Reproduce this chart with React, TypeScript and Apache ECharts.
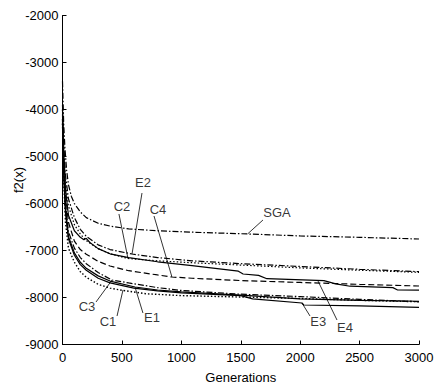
import React, { useEffect, useRef } from "react";
import * as echarts from "echarts";

// Generations axis ticks / value axis ticks
const xTicks = [0, 500, 1000, 1500, 2000, 2500, 3000];
const yTicks = [-9000, -8000, -7000, -6000, -5000, -4000, -3000, -2000];

// Series: [generation, f2(x)]
const sga: number[][] = [[0,-3400],[10,-4300],[20,-4800],[35,-5300],[50,-5600],[75,-5850],[100,-6000],[150,-6180],[200,-6300],[300,-6420],[400,-6480],[557,-6540],[800,-6580],[1090,-6610],[1578,-6650],[2000,-6690],[2500,-6720],[3000,-6755]];
const e2: number[][] = [[0,-3900],[10,-4700],[25,-5400],[50,-5900],[100,-6300],[150,-6550],[200,-6700],[300,-6880],[400,-6980],[585,-7075],[800,-7150],[1090,-7220],[1500,-7280],[2000,-7340],[2500,-7400],[3000,-7450]];
const c2: number[][] = [[0,-4000],[10,-4900],[25,-5600],[50,-6050],[100,-6450],[150,-6650],[200,-6790],[300,-6960],[400,-7070],[551,-7170],[800,-7220],[1090,-7260],[1500,-7310],[2000,-7370],[2500,-7420],[3000,-7465]];
const e4: number[][] = [[0,-4000],[10,-4900],[25,-5700],[50,-6250],[100,-6580],[150,-6720],[180,-6770],[200,-6740],[230,-6830],[300,-6960],[400,-7070],[557,-7150],[800,-7240],[1090,-7320],[1480,-7440],[1520,-7500],[1650,-7530],[1720,-7600],[2200,-7640],[2300,-7710],[2420,-7760],[2780,-7790],[2820,-7840],[3000,-7845]];
const c4: number[][] = [[0,-4100],[10,-5000],[25,-5800],[50,-6400],[100,-6800],[150,-6980],[200,-7080],[300,-7230],[400,-7330],[557,-7430],[800,-7520],[921,-7564],[1090,-7590],[1500,-7640],[2000,-7680],[2500,-7720],[3000,-7755]];
const c3: number[][] = [[0,-4200],[10,-5200],[25,-6000],[50,-6600],[100,-6950],[150,-7150],[200,-7280],[300,-7470],[417,-7628],[557,-7690],[800,-7790],[1000,-7850],[1500,-7930],[2000,-7980],[2500,-8040],[3000,-8090]];
const e1: number[][] = [[0,-4200],[10,-5300],[25,-6100],[50,-6700],[100,-7050],[150,-7250],[200,-7380],[300,-7540],[400,-7650],[610,-7777],[800,-7840],[1000,-7880],[1500,-7950],[2000,-8030],[2500,-8060],[3000,-8080]];
const e3: number[][] = [[0,-4300],[10,-5400],[25,-6200],[50,-6750],[100,-7100],[150,-7300],[200,-7420],[300,-7590],[400,-7690],[600,-7800],[800,-7860],[1000,-7900],[1500,-7960],[1600,-8030],[2015,-8117],[2030,-8160],[2500,-8180],[3000,-8210]];
const c1: number[][] = [[0,-4300],[10,-5500],[25,-6400],[50,-6950],[100,-7250],[150,-7450],[200,-7570],[300,-7720],[400,-7800],[509,-7850],[700,-7920],[1000,-7960],[1500,-7990],[2000,-8020],[2500,-8060],[3000,-8090]];

// Annotation labels: name, text position [gen, value], pointer from, pointer to
const labelNames = ["SGA", "C2", "E2", "C4", "C3", "C1", "E1", "E3", "E4"];
const labelPos: number[][] = [[1805,-6181],[501,-6074],[677,-5543],[804,-6138],[206,-8202],[383,-8521],[753,-8436],[2152,-8521],[2377,-8628]];
const pointerFrom: number[][] = [[1687,-6351],[475,-6223],[669,-5777],[770,-6266],[282,-8096],[459,-8394],[677,-8330],[2083,-8394],[2310,-8479]];
const pointerTo: number[][] = [[1561,-6640],[551,-7170],[585,-7075],[921,-7564],[417,-7628],[509,-7840],[610,-7777],[2015,-8117],[2150,-7649]];

const FONT = "'Liberation Sans', Arial, sans-serif";
const DASH = [6, 3];
const DOT = [1.5, 2];
const DASHDOT = [6, 2, 1.5, 2];

export default function App() {
  const ref = useRef<HTMLDivElement>(null);
  useEffect(() => {
    if (!ref.current) return;
    const chart = echarts.init(ref.current, undefined, { renderer: "svg" });
    const mk = (name: string, data: number[][], type: any, width = 1.2) => ({
      name,
      type: "line",
      data,
      showSymbol: false,
      symbol: "none",
      silent: true,
      lineStyle: { color: "#000", width, type },
      z: 2,
    });
    chart.setOption({
      animation: false,
      backgroundColor: "#fff",
      grid: { left: 62.5, right: 19, top: 15.5, bottom: 42.5, containLabel: false, outerBoundsMode: "none" },
      xAxis: {
        type: "value",
        min: xTicks[0],
        max: xTicks[xTicks.length - 1],
        interval: 500,
        name: "Generations",
        nameLocation: "middle",
        nameGap: 26,
        nameMoveOverlap: false,
        nameTextStyle: { color: "#000", fontSize: 13, fontFamily: FONT },
        axisLine: { onZero: false, lineStyle: { color: "#000", width: 1 } },
        axisTick: { inside: true, length: 4, lineStyle: { color: "#000" } },
        axisLabel: { color: "#000", fontSize: 13, fontFamily: FONT, margin: 6, formatter: (v: number) => String(v) },
        splitLine: { show: false },
      },
      yAxis: {
        type: "value",
        min: yTicks[0],
        max: yTicks[yTicks.length - 1],
        interval: 1000,
        name: "f2(x)",
        nameLocation: "middle",
        nameRotate: 90,
        nameGap: 38,
        nameMoveOverlap: false,
        nameTextStyle: { color: "#000", fontSize: 13, fontFamily: FONT },
        axisLine: { onZero: false, lineStyle: { color: "#000", width: 1 } },
        axisTick: { inside: true, length: 4, lineStyle: { color: "#000" } },
        axisLabel: { color: "#000", fontSize: 13, fontFamily: FONT, margin: 4, formatter: (v: number) => String(v) },
        splitLine: { show: false },
      },
      series: [
        mk("SGA", sga, DASHDOT),
        mk("E2", e2, DASHDOT),
        mk("C2", c2, DOT),
        mk("E4", e4, "solid"),
        mk("C4", c4, DASH),
        mk("C3", c3, DASHDOT),
        mk("E1", e1, "solid"),
        mk("E3", e3, "solid"),
        mk("C1", c1, DOT, 1.4),
        {
          name: "labels",
          type: "scatter",
          symbolSize: 0,
          silent: true,
          data: labelNames.map((n, i) => ({ name: n, value: labelPos[i] })),
          label: {
            show: true,
            position: "inside",
            formatter: "{b}",
            color: "#000",
            fontSize: 13,
            fontFamily: FONT,
          },
          markLine: {
            silent: true,
            symbol: ["none", "none"],
            label: { show: false },
            lineStyle: { color: "#000", width: 0.8, type: "solid" },
            data: labelNames.map((n, i) => [
              { coord: pointerFrom[i] },
              { coord: pointerTo[i] },
            ]),
          },
          z: 3,
        },
      ],
    });
    return () => chart.dispose();
  }, []);
  return (
    <div
      ref={ref}
      style={{ position: "fixed", left: 0, top: 0, width: 438, height: 387, background: "#fff" }}
    />
  );
}
